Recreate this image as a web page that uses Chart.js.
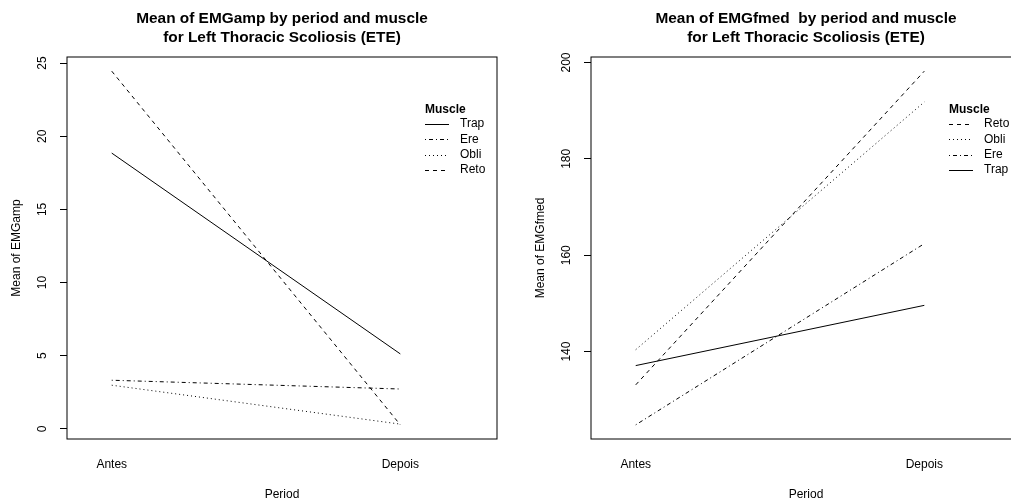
<!DOCTYPE html>
<html>
<head>
<meta charset="utf-8">
<script src="https://cdn.jsdelivr.net/npm/chart.js@4.4.0/dist/chart.umd.min.js"></script>
<style>
  html, body { margin: 0; padding: 0; background: #fff; }
  body { width: 1011px; height: 504px; overflow: hidden; position: relative; }
  .panel { position: absolute; top: 0; width: 564px; height: 504px; }
</style>
</head>
<body>
<div class="panel" style="left:0"><canvas id="chartAmp"></canvas></div>
<div class="panel" style="left:524px"><canvas id="chartFmed"></canvas></div>
<script>
// periodos (eje x)
const periodos = ['Antes', 'Depois'];

// media de EMGamp por músculo
const ampTrap = [18.85, 5.12];
const ampEre  = [3.32, 2.72];
const ampObli = [2.98, 0.32];
const ampReto = [24.45, 0.27];
const ticksAmp = [0, 5, 10, 15, 20, 25];

// media de EMGfmed por músculo
const fmedTrap = [137.1, 149.6];
const fmedEre  = [124.8, 162.4];
const fmedObli = [140.4, 191.8];
const fmedReto = [133.1, 198.2];
const ticksFmed = [140, 160, 180, 200];

const FUENTE = "'Liberation Sans', Arial, sans-serif";
Chart.defaults.font.family = FUENTE;
Chart.defaults.color = '#000';

// tipos de línea al estilo de R: 1 sólida, 2 guiones, 3 puntos, 4 punto-guion
const estilos = { Trap: [], Reto: [4, 4], Obli: [1, 3], Ere: [1, 3, 4, 3] };

let serie = (nombre, valores) => ({
  label: nombre,
  data: valores.map((v, i) => ({ x: i + 1, y: v })),
  borderColor: '#000',
  borderWidth: 1,
  borderDash: estilos[nombre],
  pointRadius: 0,
  tension: 0,
  fill: false
});

// caja, etiquetas rotadas del eje y y leyenda "Muscle"
const marco = {
  id: 'marco',
  afterDraw(chart) {
    const { ctx, chartArea: a, scales } = chart;
    ctx.save();
    ctx.strokeStyle = '#000';
    ctx.lineWidth = 1;
    ctx.setLineDash([]);
    ctx.strokeRect(a.left, a.top, a.right - a.left, a.bottom - a.top);

    const y = scales.y;
    ctx.font = '12px ' + FUENTE;
    ctx.fillStyle = '#000';
    ctx.textAlign = 'center';
    ctx.textBaseline = 'middle';
    y.ticks.forEach(t => {
      const py = y.getPixelForValue(t.value);
      ctx.save();
      ctx.translate(a.left - 24, py);
      ctx.rotate(-Math.PI / 2);
      ctx.fillText(String(t.value), 0, 0);
      ctx.restore();
    });

    // orden de la leyenda: según el último valor, de mayor a menor
    const orden = chart.data.datasets.slice().sort((d1, d2) =>
      d2.data[d2.data.length - 1].y - d1.data[d1.data.length - 1].y);
    const lx = a.left + 358;
    ctx.textAlign = 'left';
    ctx.font = 'bold 12px ' + FUENTE;
    ctx.fillText('Muscle', lx, 110);
    ctx.font = '12px ' + FUENTE;
    orden.forEach((d, i) => {
      const ly = 124 + i * 15.3;
      ctx.beginPath();
      ctx.setLineDash(d.borderDash);
      ctx.moveTo(lx, Math.round(ly) + 0.5);
      ctx.lineTo(lx + 24, Math.round(ly) + 0.5);
      ctx.stroke();
      ctx.setLineDash([]);
      ctx.fillText(d.label, lx + 35, ly);
    });
    ctx.restore();
  }
};

let crearGrafico = (id, titulo, ejeY, datasets, ticksY) => {
  // rango con 4% de margen, como hace R
  const todos = datasets.flatMap(d => d.data.map(p => p.y));
  const lo = Math.min(...todos), hi = Math.max(...todos);
  const m = (hi - lo) * 0.04;

  return new Chart(document.getElementById(id), {
    type: 'line',
    data: { datasets: datasets },
    options: {
      responsive: true,
      maintainAspectRatio: false,
      animation: false,
      layout: { padding: { left: 0, right: 67, top: 0, bottom: 0 } },
      plugins: {
        legend: { display: false },
        tooltip: { enabled: false },
        title: {
          display: true,
          fullSize: false,
          text: titulo,
          color: '#000',
          font: { size: 15.4, weight: 'bold', lineHeight: 19 / 15.4 },
          padding: { top: 9, bottom: 10 }
        }
      },
      scales: {
        x: {
          type: 'linear',
          min: 0.845,
          max: 2.335,
          afterBuildTicks: s => { s.ticks = periodos.map((p, i) => ({ value: i + 1 })); },
          afterFit: s => { s.height = 65; },
          grid: { display: false, drawTicks: false },
          border: { display: false },
          ticks: {
            callback: v => periodos[v - 1],
            padding: 18,
            maxRotation: 0,
            autoSkip: false,
            font: { size: 12 }
          },
          title: { display: true, text: 'Period', font: { size: 12 }, padding: { top: 0, bottom: 2 } }
        },
        y: {
          min: lo - m,
          max: hi + m,
          afterBuildTicks: s => { s.ticks = ticksY.map(v => ({ value: v })); },
          afterFit: s => { s.width = 67; },
          grid: { drawOnChartArea: false, drawTicks: true, tickLength: 7, color: '#000' },
          border: { display: false },
          ticks: { display: false },
          title: { display: true, text: ejeY, font: { size: 12 }, padding: { top: 9, bottom: 0 } }
        }
      }
    },
    plugins: [marco]
  });
};

crearGrafico('chartAmp',
  ['Mean of EMGamp by period and muscle', 'for Left Thoracic Scoliosis (ETE)'],
  'Mean of EMGamp',
  [serie('Trap', ampTrap), serie('Ere', ampEre), serie('Obli', ampObli), serie('Reto', ampReto)],
  ticksAmp);

crearGrafico('chartFmed',
  ['Mean of EMGfmed  by period and muscle', 'for Left Thoracic Scoliosis (ETE)'],
  'Mean of EMGfmed',
  [serie('Reto', fmedReto), serie('Obli', fmedObli), serie('Ere', fmedEre), serie('Trap', fmedTrap)],
  ticksFmed);
</script>
</body>
</html>
